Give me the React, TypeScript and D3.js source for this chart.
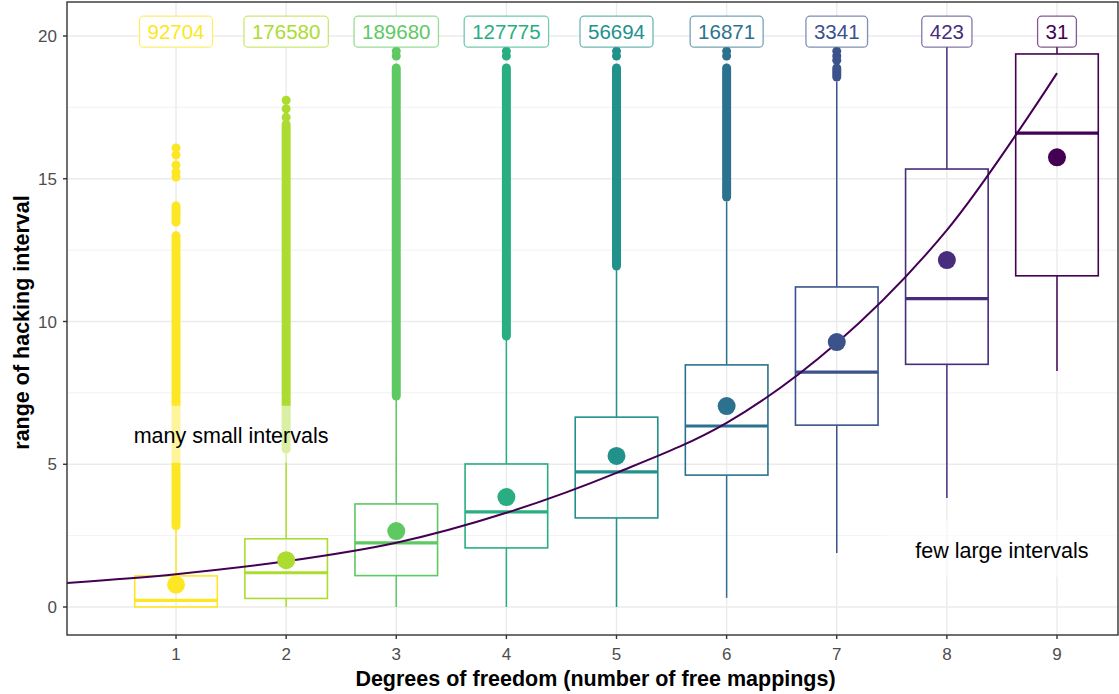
import React from 'react';
import * as d3 from 'd3';

// degrees of freedom groups and the number of intervals in each
const groups = [1, 2, 3, 4, 5, 6, 7, 8, 9];
const counts = [92704, 176580, 189680, 127775, 56694, 16871, 3341, 423, 31];

// box statistics
const whiskerLow = [0, 0, 0, 0, 0, 0.32, 1.89, 3.82, 8.27];
const q1 = [0, 0.3, 1.1, 2.07, 3.12, 4.62, 6.37, 8.5, 11.6];
const median = [0.23, 1.2, 2.25, 3.33, 4.73, 6.34, 8.23, 10.8, 16.6];
const q3 = [1.09, 2.39, 3.61, 5.01, 6.65, 8.48, 11.21, 15.34, 19.37];
const whiskerHigh = [2.66, 5.36, 7.25, 9.35, 11.8, 14.2, 18.4, 19.7, 19.7];
const means = [0.78, 1.64, 2.66, 3.85, 5.29, 7.04, 9.28, 12.15, 15.75];

// outliers: dense runs [from, to] and separate points
const outlierRuns = [
  [[2.84, 13.0], [13.48, 14.05]],
  [[5.53, 16.9]],
  [[7.39, 18.88]],
  [[9.49, 18.88]],
  [[11.94, 18.88]],
  [[14.36, 18.88]],
  [[18.56, 18.88]],
  [],
  [],
];
const outlierDots = [
  [15.06, 15.24, 15.48, 15.83, 16.08],
  [17.15, 17.45, 17.75],
  [19.3, 19.47],
  [19.3, 19.47],
  [19.3, 19.47],
  [19.3, 19.47],
  [19.15, 19.3, 19.47],
  [],
  [],
];

// fitted curve read at x = 0..9
const fitX = [0, 1, 2, 3, 4, 5, 6, 7, 8, 9];
const fitY = [0.84, 1.15, 1.6, 2.25, 3.3, 4.7, 6.45, 9.25, 13.2, 18.7];

const yTicks = [0, 5, 10, 15, 20];
const yMinor = [2.5, 7.5, 12.5, 17.5];

const notes = [
  { x: 1.5, y: 6, text: 'many small intervals' },
  { x: 8.5, y: 2, text: 'few large intervals' },
];

const W = 1119;
const H = 694;
const panel = { left: 67, top: 2, right: 1118, bottom: 635 };
const font = '"Liberation Sans", Arial, Helvetica, sans-serif';

const colors = [...d3.range(9)].map((i) => d3.interpolateViridis(1 - i / 8));

const App = () => {
  const x = d3.scaleLinear().domain([0.01, 9.554]).range([panel.left, panel.right]);
  const y = d3.scaleLinear().domain([-0.98, 21.19]).range([panel.bottom, panel.top]);

  const boxW = x(0.75) - x(0);
  const line = d3
    .line<number>()
    .x((d, i) => x(fitX[i]))
    .y((d) => y(d))
    .curve(d3.curveCatmullRom);

  const labelFs = 20.5;

  return (
    <svg width={W} height={H} style={{ position: 'absolute', left: 0, top: 0, background: '#fff' }} fontFamily={font}>
      <defs>
        <clipPath id="panel">
          <rect x={panel.left} y={panel.top} width={panel.right - panel.left} height={panel.bottom - panel.top} />
        </clipPath>
      </defs>
      {/* grid */}
      {yMinor.map((t) => (
        <line key={'m' + t} x1={panel.left} x2={panel.right} y1={y(t)} y2={y(t)} stroke="#EBEBEB" strokeWidth={0.7} />
      ))}
      {yTicks.map((t) => (
        <line key={'g' + t} x1={panel.left} x2={panel.right} y1={y(t)} y2={y(t)} stroke="#EBEBEB" strokeWidth={1.4} />
      ))}
      {groups.map((g) => (
        <line key={'v' + g} x1={x(g)} x2={x(g)} y1={panel.top} y2={panel.bottom} stroke="#EBEBEB" strokeWidth={1.4} />
      ))}

      <g clipPath="url(#panel)">
        {/* boxplots */}
        {groups.map((g, i) => {
          const c = colors[i];
          const cx = x(g);
          return (
            <g key={'b' + g}>
              <line x1={cx} x2={cx} y1={y(q3[i])} y2={y(whiskerHigh[i])} stroke={c} strokeWidth={1.5} />
              <line x1={cx} x2={cx} y1={y(q1[i])} y2={y(whiskerLow[i])} stroke={c} strokeWidth={1.5} />
              {outlierRuns[i].map((r, j) => (
                <line key={j} x1={cx} x2={cx} y1={y(r[0])} y2={y(r[1])} stroke={c} strokeWidth={9} strokeLinecap="round" />
              ))}
              {outlierDots[i].map((v, j) => (
                <circle key={'d' + j} cx={cx} cy={y(v)} r={4.5} fill={c} />
              ))}
              <rect x={cx - boxW / 2} y={y(q3[i])} width={boxW} height={y(q1[i]) - y(q3[i])} fill="none" stroke={c} strokeWidth={1.6} />
              <line x1={cx - boxW / 2} x2={cx + boxW / 2} y1={y(median[i])} y2={y(median[i])} stroke={c} strokeWidth={3.2} />
            </g>
          );
        })}

        {/* fitted curve */}
        <path d={line(fitY) || ''} fill="none" stroke={colors[8]} strokeWidth={2} />

        {/* means */}
        {groups.map((g, i) => (
          <circle key={'mean' + g} cx={x(g)} cy={y(means[i])} r={9} fill={colors[i]} />
        ))}

        {/* count labels */}
        {groups.map((g, i) => {
          const txt = String(counts[i]);
          const tw = txt.length * 0.556 * labelFs;
          const bw = tw + 16;
          const bh = 31;
          const cy = y(20.15);
          return (
            <g key={'l' + g}>
              <rect x={x(g) - bw / 2} y={cy - bh / 2} width={bw} height={bh} rx={4} fill="#fff" stroke={colors[i]} strokeOpacity={0.65} strokeWidth={1.3} />
              <text x={x(g)} y={cy} dy="0.36em" textAnchor="middle" fontSize={labelFs} fill={colors[i]}>
                {txt}
              </text>
            </g>
          );
        })}

        {/* annotations */}
        {notes.map((n) => (
          <g key={n.text}>
            <rect x={x(n.x) - 115} y={y(n.y) - 30} width={230} height={57} fill="#fff" fillOpacity={0.55} />
            <text x={x(n.x)} y={y(n.y)} dy="0.36em" textAnchor="middle" fontSize={21.5} fill="#000">
              {n.text}
            </text>
          </g>
        ))}
      </g>

      {/* panel border */}
      <rect x={panel.left} y={panel.top} width={panel.right - panel.left} height={panel.bottom - panel.top} fill="none" stroke="#333" strokeWidth={1.4} />

      {/* axes */}
      {yTicks.map((t) => (
        <g key={'yt' + t}>
          <line x1={panel.left - 4} x2={panel.left} y1={y(t)} y2={y(t)} stroke="#333" strokeWidth={1.4} />
          <text x={panel.left - 10} y={y(t)} dy="0.36em" textAnchor="end" fontSize={17} fill="#4D4D4D">
            {t}
          </text>
        </g>
      ))}
      {groups.map((g) => (
        <g key={'xt' + g}>
          <line x1={x(g)} x2={x(g)} y1={panel.bottom} y2={panel.bottom + 4} stroke="#333" strokeWidth={1.4} />
          <text x={x(g)} y={panel.bottom + 19} dy="0.36em" textAnchor="middle" fontSize={17} fill="#4D4D4D">
            {g}
          </text>
        </g>
      ))}
      <text x={(panel.left + panel.right) / 2 + 3} y={678} dy="0.36em" textAnchor="middle" fontSize={21.5} fontWeight="bold">
        Degrees of freedom (number of free mappings)
      </text>
      <text transform={`translate(21, ${(panel.top + panel.bottom) / 2 + 4}) rotate(-90)`} dy="0.36em" textAnchor="middle" fontSize={21.5} fontWeight="bold">
        range of hacking interval
      </text>
    </svg>
  );
};

export default App;
